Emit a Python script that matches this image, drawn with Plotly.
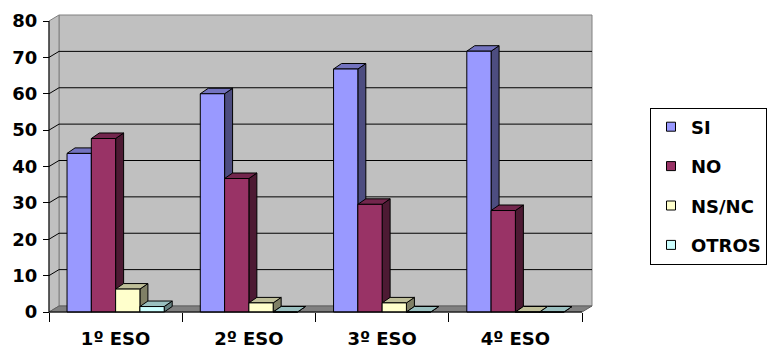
import plotly.graph_objects as go

# ---- data -------------------------------------------------------------
categories = ["1º ESO", "2º ESO", "3º ESO", "4º ESO"]
series_names = ["SI", "NO", "NS/NC", "OTROS"]
si = [43.6, 60.0, 66.8, 71.7]
no = [47.7, 36.7, 29.6, 27.9]
nsnc = [6.3, 2.5, 2.5, 0.0]
otros = [1.5, 0.0, 0.0, 0.0]
y_ticks = [0, 10, 20, 30, 40, 50, 60, 70, 80]

series_values = [si, no, nsnc, otros]

# ---- styling ----------------------------------------------------------
front_colors = ["#9999FF", "#993366", "#FFFFCC", "#CCFFFF"]
top_colors = ["#7373BF", "#73264D", "#BFBF99", "#99BFBF"]
side_colors = ["#4D4D80", "#4D1A33", "#808066", "#668080"]
WALL = "#C0C0C0"
FLOOR = "#808080"
EDGE = "#808080"
FONT = dict(family="DejaVu Sans", size=18, color="black", weight="bold")

W, H = 767, 349
PX_CAT = 133.3          # pixels per category slot
PX_VAL = 3.6325         # pixels per value unit
Y_MAX = 80

# oblique depth offsets of the walls and the bars, in data units
WALL_DX, WALL_DY = 10 / PX_CAT, 6 / PX_VAL
BAR_DX, BAR_DY = 8 / PX_CAT, 5.5 / PX_VAL
BAR_W = 24.3 / PX_CAT
PAD_X, PAD_Y = 3 / PX_CAT, 3 / PX_VAL

n_cat = len(categories)
x_lo, x_hi = -0.5, n_cat - 0.5
x_range = [x_lo - PAD_X, x_hi + WALL_DX + PAD_X]
y_range = [-PAD_Y, Y_MAX + WALL_DY + PAD_Y]

plot_w = (x_range[1] - x_range[0]) * PX_CAT
plot_h = (y_range[1] - y_range[0]) * PX_VAL
m_l = 46
m_b = 34
m_t = H - m_b - plot_h
m_r = W - m_l - plot_w

fig = go.Figure()


def poly(xs, ys, fill, line_color, width=1):
    fig.add_trace(go.Scatter(
        x=xs, y=ys, mode="lines", fill="toself", fillcolor=fill,
        line=dict(color=line_color, width=width), showlegend=False,
        hoverinfo="skip"))


# back wall, side wall and floor
poly([x_lo + WALL_DX, x_hi + WALL_DX, x_hi + WALL_DX, x_lo + WALL_DX, x_lo + WALL_DX],
     [WALL_DY, WALL_DY, Y_MAX + WALL_DY, Y_MAX + WALL_DY, WALL_DY], WALL, EDGE)
poly([x_lo, x_lo + WALL_DX, x_lo + WALL_DX, x_lo, x_lo],
     [0, WALL_DY, Y_MAX + WALL_DY, Y_MAX, 0], WALL, EDGE)
poly([x_lo, x_hi, x_hi + WALL_DX, x_lo + WALL_DX, x_lo],
     [0, 0, WALL_DY, WALL_DY, 0], FLOOR, "#606060")

# gridlines along side wall and back wall
gx, gy = [], []
for v in y_ticks[1:-1]:
    gx += [x_lo, x_lo + WALL_DX, x_hi + WALL_DX, None]
    gy += [v, v + WALL_DY, v + WALL_DY, None]
fig.add_trace(go.Scatter(x=gx, y=gy, mode="lines", line=dict(color="black", width=1),
                         showlegend=False, hoverinfo="skip"))

# 3D bars: front, top and side faces, drawn series by series (left to right)
for s, vals in enumerate(series_values):
    fx, fy, tx, ty, sx, sy = [], [], [], [], [], []
    for c, v in enumerate(vals):
        x0 = c - 2 * BAR_W + s * BAR_W
        x1 = x0 + BAR_W
        fx += [x0, x1, x1, x0, x0, None]
        fy += [0, 0, v, v, 0, None]
        tx += [x0, x1, x1 + BAR_DX, x0 + BAR_DX, x0, None]
        ty += [v, v, v + BAR_DY, v + BAR_DY, v, None]
        sx += [x1, x1 + BAR_DX, x1 + BAR_DX, x1, x1, None]
        sy += [0, BAR_DY, v + BAR_DY, v, 0, None]
    for xs, ys, col in ((sx, sy, side_colors[s]), (tx, ty, top_colors[s]), (fx, fy, front_colors[s])):
        fig.add_trace(go.Scatter(
            x=xs, y=ys, mode="lines", fill="toself", fillcolor=col,
            line=dict(color="black", width=1), showlegend=False, hoverinfo="skip"))

# legend swatches
for s, name in enumerate(series_names):
    fig.add_trace(go.Scatter(
        x=[None], y=[None], mode="markers", name=name, legendgroup=name,
        marker=dict(symbol="square", size=9, color=front_colors[s],
                    line=dict(color="black", width=1))))

# front axis lines
fig.add_shape(type="line", xref="x", yref="y", x0=x_lo, x1=x_lo, y0=0, y1=Y_MAX,
              line=dict(color="black", width=1))
fig.add_shape(type="line", xref="x", yref="y", x0=x_lo, x1=x_hi, y0=0, y1=0,
              line=dict(color="black", width=1))

fig.update_layout(
    width=W, height=H,
    margin=dict(l=m_l, r=m_r, t=m_t, b=m_b, pad=0, autoexpand=False),
    paper_bgcolor="white", plot_bgcolor="white",
    font=FONT,
    showlegend=True,
    legend=dict(
        xref="container", yref="container",
        x=650 / W, xanchor="left",
        y=1 - 107.5 / H, yanchor="top",
        bgcolor="white", bordercolor="black", borderwidth=1,
        font=FONT, traceorder="grouped", tracegroupgap=13,
        itemclick=False, itemdoubleclick=False),
    xaxis=dict(
        range=x_range, showgrid=False, zeroline=False, showline=False,
        tickmode="array", tickvals=list(range(n_cat)), ticktext=categories,
        ticks="", ticklabelstandoff=14, tickfont=FONT, automargin=False,
        anchor="free", position=PAD_Y / (y_range[1] - y_range[0]),
        minor=dict(tickmode="array", tickvals=[c - 0.5 for c in range(n_cat + 1)],
                   ticks="outside", ticklen=9, tickcolor="black", tickwidth=1,
                   showgrid=False),
        fixedrange=True),
    yaxis=dict(
        range=y_range, showgrid=False, zeroline=False, showline=False,
        tickmode="array", tickvals=y_ticks,
        ticks="outside", ticklen=6, tickcolor="black", tickwidth=1,
        ticklabelstandoff=2, tickfont=FONT, automargin=False,
        anchor="free", position=PAD_X / (x_range[1] - x_range[0]),
        fixedrange=True),
)

fig.write_html("out.html")
